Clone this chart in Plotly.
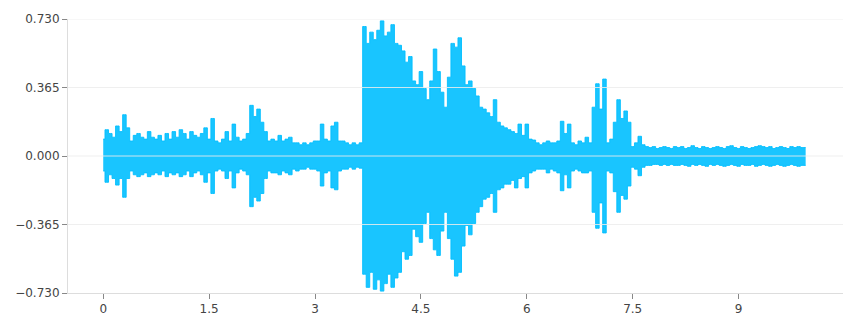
import plotly.graph_objects as go

# time grid of the envelope readings (seconds)
t_start = 0.0
t_step = 0.05

# upper envelope (max amplitude) per 0.05 s window
upper = [
    0.09, 0.14, 0.12, 0.10, 0.16, 0.13, 0.22, 0.15, 0.08, 0.11,
    0.12, 0.10, 0.09, 0.13, 0.10, 0.09, 0.11, 0.08, 0.12, 0.09,
    0.13, 0.10, 0.14, 0.12, 0.09, 0.13, 0.11, 0.10, 0.12, 0.15,
    0.09, 0.20, 0.08, 0.07, 0.09, 0.13, 0.08, 0.17, 0.10, 0.08,
    0.09, 0.12, 0.27, 0.21, 0.25, 0.18, 0.13, 0.08, 0.09, 0.08,
    0.11, 0.08, 0.09, 0.10, 0.07, 0.07, 0.06, 0.07, 0.06, 0.07,
    0.08, 0.08, 0.17, 0.09, 0.08, 0.16, 0.18, 0.08, 0.08, 0.07,
    0.06, 0.07, 0.06, 0.07,
    0.69, 0.60, 0.66, 0.62, 0.67, 0.72,
    0.64, 0.66, 0.70, 0.60, 0.59, 0.56, 0.50, 0.53, 0.40, 0.38,
    0.45, 0.36, 0.30, 0.40, 0.57, 0.45, 0.34, 0.26, 0.42, 0.60,
    0.58, 0.63, 0.48, 0.38, 0.40, 0.36, 0.32, 0.26, 0.25, 0.23,
    0.21, 0.30, 0.18, 0.16, 0.15, 0.14, 0.13, 0.12, 0.17, 0.11,
    0.17, 0.09, 0.085,
    0.07, 0.06, 0.07, 0.08, 0.07, 0.07, 0.08, 0.185, 0.12, 0.17,
    0.07, 0.06, 0.08, 0.07, 0.10, 0.07, 0.26, 0.385, 0.25, 0.41,
    0.07, 0.09, 0.18, 0.30, 0.20, 0.24, 0.18, 0.05, 0.07, 0.105,
    0.06, 0.05, 0.045, 0.05, 0.04, 0.045, 0.05, 0.045, 0.04, 0.05,
    0.045, 0.05, 0.04, 0.045, 0.055, 0.045, 0.04, 0.05, 0.045, 0.04,
    0.045, 0.05, 0.045, 0.04, 0.05, 0.055, 0.045, 0.04, 0.05, 0.045,
    0.04, 0.045, 0.05, 0.055, 0.05, 0.045, 0.05, 0.04, 0.045, 0.05,
    0.045, 0.04, 0.05, 0.045, 0.05, 0.045, 0.045,
]

# lower envelope (min amplitude) per 0.05 s window
lower = [
    -0.08, -0.14, -0.10, -0.12, -0.155, -0.12, -0.22, -0.12, -0.08, -0.10,
    -0.11, -0.10, -0.09, -0.11, -0.10, -0.09, -0.10, -0.08, -0.11, -0.09,
    -0.10, -0.09, -0.11, -0.10, -0.08, -0.11, -0.09, -0.08, -0.10, -0.14,
    -0.09, -0.20, -0.08, -0.07, -0.08, -0.12, -0.08, -0.17, -0.09, -0.07,
    -0.08, -0.10, -0.27, -0.22, -0.24, -0.20, -0.12, -0.08, -0.09, -0.09,
    -0.10, -0.08, -0.09, -0.10, -0.07, -0.08, -0.07, -0.07, -0.06, -0.07,
    -0.07, -0.08, -0.16, -0.09, -0.08, -0.17, -0.18, -0.08, -0.07, -0.07,
    -0.06, -0.07, -0.06, -0.065,
    -0.63, -0.70, -0.62, -0.71, -0.66, -0.72,
    -0.68, -0.63, -0.70, -0.65, -0.62, -0.51, -0.55, -0.53, -0.39, -0.43,
    -0.46, -0.36, -0.30, -0.44, -0.50, -0.53, -0.40, -0.30, -0.44, -0.55,
    -0.64, -0.62, -0.48, -0.37, -0.42, -0.36, -0.30, -0.27, -0.23, -0.22,
    -0.20, -0.30, -0.18, -0.17, -0.15, -0.15, -0.13, -0.17, -0.12, -0.11,
    -0.17, -0.09, -0.08,
    -0.07, -0.07, -0.07, -0.09, -0.07, -0.08, -0.09, -0.185, -0.10, -0.17,
    -0.08, -0.07, -0.08, -0.09, -0.09, -0.08, -0.30, -0.385, -0.25, -0.41,
    -0.08, -0.09, -0.19, -0.30, -0.21, -0.23, -0.16, -0.06, -0.07, -0.105,
    -0.06, -0.05, -0.05, -0.045, -0.045, -0.05, -0.045, -0.05, -0.045, -0.05,
    -0.05, -0.045, -0.05, -0.055, -0.045, -0.05, -0.045, -0.05, -0.055, -0.045,
    -0.05, -0.045, -0.05, -0.055, -0.05, -0.045, -0.05, -0.055, -0.045, -0.05,
    -0.05, -0.045, -0.055, -0.05, -0.045, -0.05, -0.055, -0.05, -0.045, -0.05,
    -0.055, -0.05, -0.045, -0.05, -0.055, -0.05, -0.05,
]

y_ticks = [-0.73, -0.365, 0.0, 0.365, 0.73]
x_tick0 = 0
x_dtick = 1.5

times = [t_start + i * t_step for i in range(len(upper))]

wave_color = "rgba(0,191,255,0.9)"

fig = go.Figure()
# lower envelope (baseline for the fill)
fig.add_trace(go.Scatter(
    x=times, y=lower,
    mode="lines", line=dict(color=wave_color, width=1, shape="hvh"),
    hoverinfo="skip", showlegend=False,
))
# upper envelope, filled down to the lower one
fig.add_trace(go.Scatter(
    x=times, y=upper,
    mode="lines", line=dict(color=wave_color, width=1, shape="hvh"),
    fill="tonexty", fillcolor=wave_color,
    hoverinfo="skip", showlegend=False,
))

# gridlines drawn above the waveform, at the y tick values
shapes = []
for v in y_ticks:
    if v == y_ticks[0]:
        continue
    shapes.append(dict(
        type="line", xref="paper", x0=0, x1=1, yref="y", y0=v, y1=v,
        line=dict(color="rgba(236,236,236,0.85)", width=1), layer="above",
    ))

axis_font = dict(family="DejaVu Sans", size=12, color="#444")

fig.update_layout(
    width=855, height=329,
    margin=dict(l=68, r=12, t=17, b=36),
    paper_bgcolor="white", plot_bgcolor="white",
    showlegend=False,
    shapes=shapes,
    xaxis=dict(
        range=[-0.499, 10.479],
        tick0=x_tick0, dtick=x_dtick,
        showgrid=False, zeroline=False,
        showline=True, linecolor="#dddddd", linewidth=1,
        ticks="outside", ticklen=5, tickcolor="#888", tickwidth=1,
        tickfont=axis_font,
    ),
    yaxis=dict(
        range=[y_ticks[0], y_ticks[-1]],
        tickvals=y_ticks, tickformat=".3f",
        showgrid=False, zeroline=False,
        showline=True, linecolor="#dddddd", linewidth=1,
        ticks="outside", ticklen=5, tickcolor="#888", tickwidth=1,
        tickfont=axis_font,
    ),
)

fig.write_html("out.html")
